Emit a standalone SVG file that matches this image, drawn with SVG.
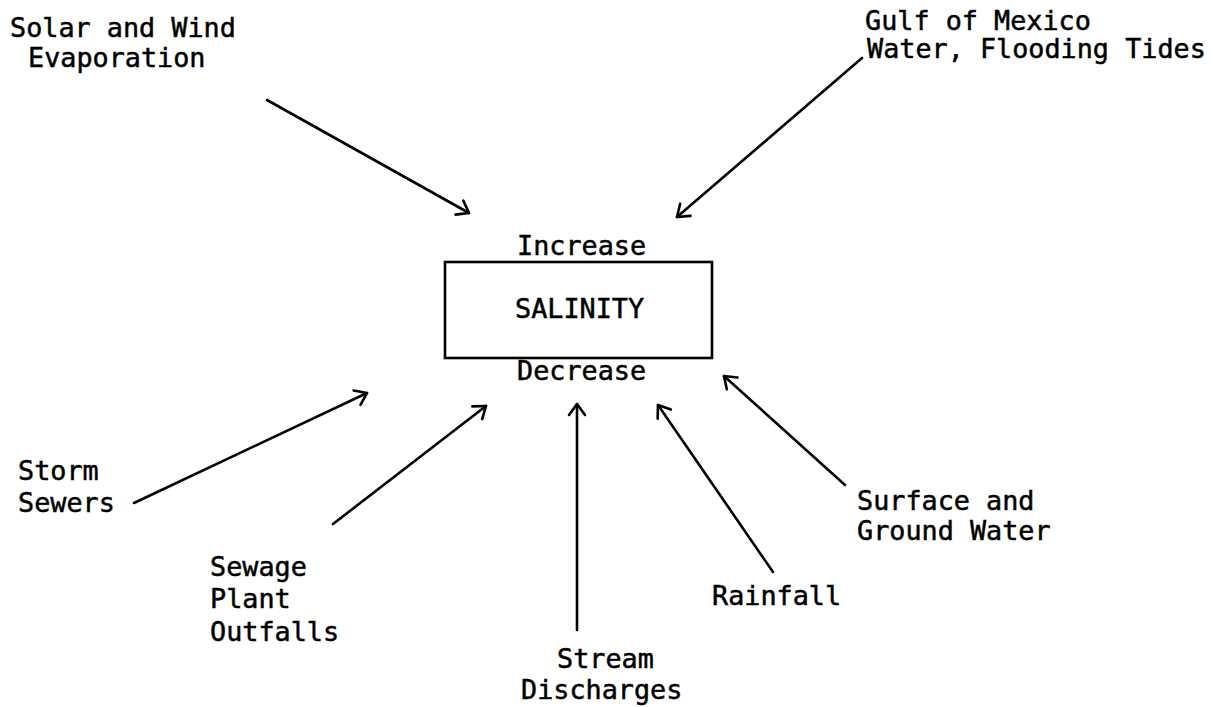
<svg xmlns="http://www.w3.org/2000/svg" width="1213" height="707" viewBox="0 0 1213 707">
<defs>
<style>
text{font-family:"DejaVu Sans Mono","Liberation Mono",monospace;font-size:26.8px;fill:#000;stroke:#000;stroke-width:0.5}
.c{stroke:#000;stroke-width:2.6;fill:none;stroke-linecap:round}
.box{stroke:#000;stroke-width:2.6;fill:#fff}
</style>
<marker id="ah" markerUnits="userSpaceOnUse" markerWidth="30" markerHeight="30" refX="15" refY="15" orient="auto" viewBox="0 0 30 30">
<path d="M4,7 L15,15 L4,23" fill="none" stroke="#000" stroke-width="2.6" stroke-linecap="round" stroke-linejoin="round"/>
</marker>
</defs>
<rect width="1213" height="707" fill="#fff"/>
<g id="connectors">
<line class="c" x1="267" y1="100" x2="469" y2="213" marker-end="url(#ah)"/>
<line class="c" x1="862" y1="58" x2="677" y2="217" marker-end="url(#ah)"/>
<line class="c" x1="134" y1="503" x2="367" y2="393" marker-end="url(#ah)"/>
<line class="c" x1="333" y1="524" x2="486" y2="406" marker-end="url(#ah)"/>
<line class="c" x1="577" y1="630" x2="577" y2="404" marker-end="url(#ah)"/>
<line class="c" x1="773" y1="572" x2="658" y2="405" marker-end="url(#ah)"/>
<line class="c" x1="845" y1="485" x2="724" y2="376" marker-end="url(#ah)"/>
</g>
<g id="salinity">
<rect class="box" x="445" y="262" width="267" height="96"/>
<text x="517" y="255">Increase</text>
<text x="515" y="318">SALINITY</text>
<text x="517" y="380">Decrease</text>
</g>
<g id="solar"><text x="10" y="37">Solar and Wind</text><text x="28" y="67">Evaporation</text></g>
<g id="gulf"><text x="865" y="30">Gulf of Mexico</text><text x="867" y="58">Water, Flooding Tides</text></g>
<g id="storm"><text x="18" y="480">Storm</text><text x="18" y="512">Sewers</text></g>
<g id="sewage"><text x="210" y="576">Sewage</text><text x="210" y="608">Plant</text><text x="210" y="641">Outfalls</text></g>
<g id="stream"><text x="557" y="668">Stream</text><text x="521" y="699">Discharges</text></g>
<g id="rainfall"><text x="712" y="605">Rainfall</text></g>
<g id="surface"><text x="857" y="510">Surface and</text><text x="857" y="540">Ground Water</text></g>
</svg>
